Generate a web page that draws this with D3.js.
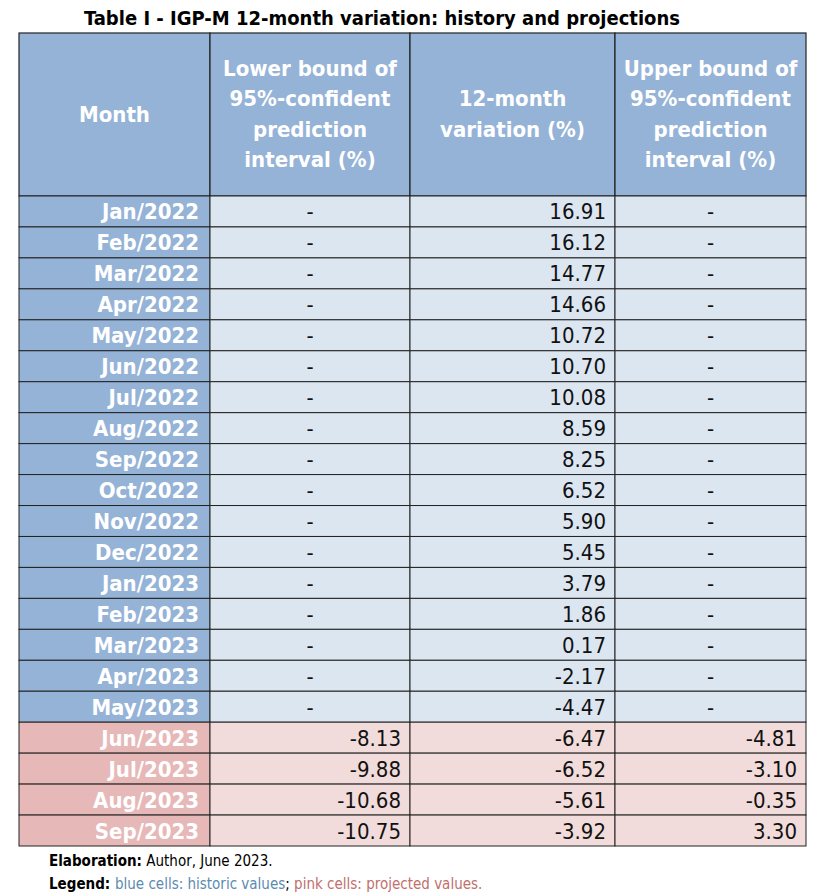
<!DOCTYPE html><html><head><meta charset="utf-8">
<script src="https://cdn.jsdelivr.net/npm/d3@7"></script>
<style>body{margin:0;background:#fff}</style></head><body><svg id="c" width="825" height="894"></svg>
<script>
const months=["Jan/2022","Feb/2022","Mar/2022","Apr/2022","May/2022","Jun/2022","Jul/2022","Aug/2022","Sep/2022","Oct/2022","Nov/2022","Dec/2022","Jan/2023","Feb/2023","Mar/2023","Apr/2023","May/2023","Jun/2023","Jul/2023","Aug/2023","Sep/2023"];
const lower=[null,null,null,null,null,null,null,null,null,null,null,null,null,null,null,null,null,-8.13,-9.88,-10.68,-10.75];
const variation=[16.91,16.12,14.77,14.66,10.72,10.70,10.08,8.59,8.25,6.52,5.90,5.45,3.79,1.86,0.17,-2.17,-4.47,-6.47,-6.52,-5.61,-3.92];
const upper=[null,null,null,null,null,null,null,null,null,null,null,null,null,null,null,null,null,-4.81,-3.10,-0.35,3.30];
const projected=months.map((m,i)=>i>=17);
const headers=[["Month"],["Lower bound of","95%-confident","prediction","interval (%)"],["12-month","variation (%)"],["Upper bound of","95%-confident","prediction","interval (%)"]];
(function(){
const F="'Liberation Sans Narrow','DejaVu Sans Condensed',sans-serif";
const svg=d3.select("#c");
const colEdges=[19,210,410,615,806];
const x=d3.scaleOrdinal().domain([0,1,2,3]).range(colEdges.slice(0,4));
const tableTop=33,hb=196,bottom=846;
const y=d3.scaleBand().domain(months).range([hb,bottom]);
const cw=i=>colEdges[i+1]-colEdges[i];
svg.append("text").attr("x",382).attr("y",25).attr("text-anchor","middle").attr("font-family",F).attr("font-weight","bold").attr("font-size",20).text("Table I - IGP-M 12-month variation: history and projections");
headers.forEach((h,i)=>{
 svg.append("rect").attr("x",x(i)).attr("y",tableTop).attr("width",cw(i)).attr("height",hb-tableTop).attr("fill","#95b3d7").attr("stroke","#222").attr("stroke-width",1.2);
 const cx=x(i)+cw(i)/2, lh=30.5, cy=(tableTop+hb)/2-(h.length-1)*lh/2;
 h.forEach((t,k)=>svg.append("text").attr("x",cx).attr("y",cy+k*lh+7).attr("text-anchor","middle").attr("font-family",F).attr("font-weight","bold").attr("font-size",22).attr("fill","#fff").text(t));
});
const cols=[lower,variation,upper];
months.forEach((m,r)=>{
 const p=projected[r], yy=y(m), h=y.bandwidth();
 svg.append("rect").attr("x",x(0)).attr("y",yy).attr("width",cw(0)).attr("height",h).attr("fill",p?"#e6b8b7":"#95b3d7").attr("stroke","#222").attr("stroke-width",1);
 svg.append("text").attr("x",colEdges[1]-11).attr("y",yy+h/2+8).attr("text-anchor","end").attr("font-family",F).attr("font-weight","bold").attr("font-size",22).attr("fill","#fff").text(m);
 cols.forEach((arr,j)=>{
  const i=j+1,v=arr[r];
  svg.append("rect").attr("x",x(i)).attr("y",yy).attr("width",cw(i)).attr("height",h).attr("fill",p?"#f2dcdb":"#dce6f1").attr("stroke","#222").attr("stroke-width",1);
  const t=svg.append("text").attr("y",yy+h/2+8).attr("font-family",F).attr("font-size",22).attr("fill","#111");
  if(v==null) t.attr("x",x(i)+cw(i)/2).attr("text-anchor","middle").text("-");
  else t.attr("x",colEdges[i+1]-9).attr("text-anchor","end").text(v.toFixed(2));
 });
});
const n1=svg.append("text").attr("x",49).attr("y",866).attr("font-family",F).attr("font-size",15);
n1.append("tspan").attr("font-weight","bold").text("Elaboration:");n1.append("tspan").text(" Author, June 2023.");
const n2=svg.append("text").attr("x",49).attr("y",889).attr("font-family",F).attr("font-size",15);
n2.append("tspan").attr("font-weight","bold").text("Legend: ");
n2.append("tspan").attr("fill","#5b8bb0").text("blue cells: historic values");
n2.append("tspan").text("; ");
n2.append("tspan").attr("fill","#c0706c").text("pink cells: projected values.");
})();
</script></body></html>
